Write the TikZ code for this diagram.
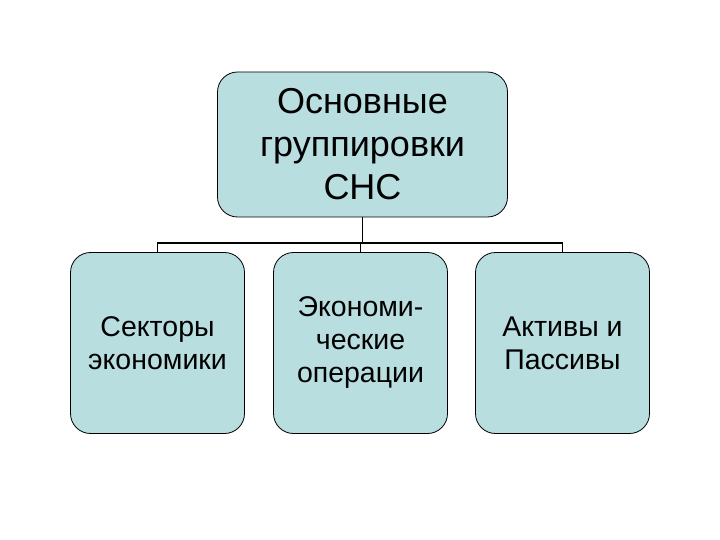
\documentclass[tikz,border=0pt]{standalone}
\usepackage{fontspec}
\setmainfont{Liberation Sans}
\usepackage{xcolor}
\definecolor{snafill}{HTML}{B9DEE0}
\usetikzlibrary{positioning}

\begin{document}
\begin{tikzpicture}[
            x=1pt, y=-1pt,
            topbox/.style={draw, rounded corners=20pt, fill=snafill, line width=0.8pt,
                minimum height=145pt, minimum width=290pt, align=center,
                font=\fontsize{36}{43}\selectfont},
            subbox/.style={draw, rounded corners=20pt, fill=snafill, line width=0.8pt,
                minimum height=181pt, minimum width=174pt, align=center,
                font=\fontsize{28.5}{33}\selectfont},
            wire/.style={line width=1.8pt},
        ]
            \useasboundingbox (0,0) rectangle (720,540);
            \node [topbox] (grp) at (362.5,144.5) {Основные\\группировки\\СНС};
            \node [subbox] (sect) at (157.5,343) {Секторы\\экономики};
            \node [subbox] (oper) at (360.5,343) {Экономи-\\ческие\\операции};
            \node [subbox] (akt)  at (562.5,343) {Активы и\\Пассивы};
            \coordinate (bus) at (362.5,243);
            \draw [wire] (grp.south) -- (bus);
            \draw [wire] (bus) -| (sect.north);
            \draw [wire] (bus) -| (oper.north);
            \draw [wire] (bus) -| (akt.north);
        \end{tikzpicture}
\end{document}
